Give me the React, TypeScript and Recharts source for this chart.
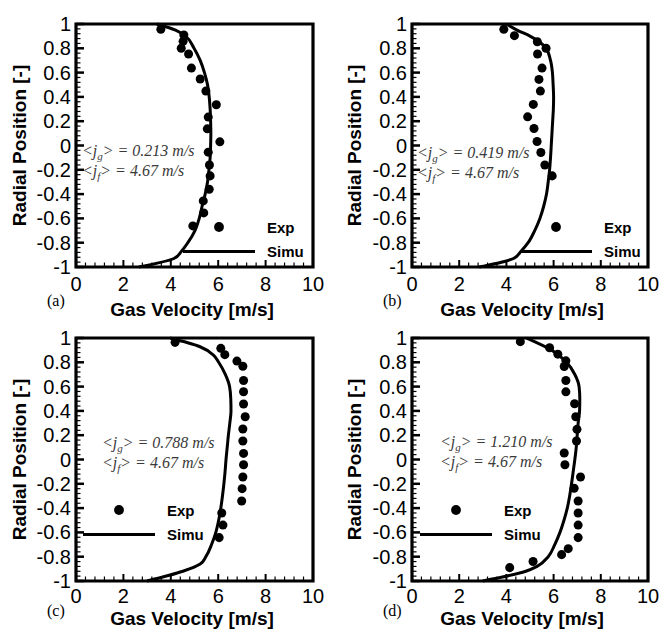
import { ScatterChart, Scatter, XAxis, YAxis, ZAxis, ReferenceArea, Legend } from 'recharts'

// axis ticks
const X_MAJOR = [0, 2, 4, 6, 8, 10]
const X_LABELS = ['0', '2', '4', '6', '8', '10']
const Y_MAJOR = [-1, -0.8, -0.6, -0.4, -0.2, 0, 0.2, 0.4, 0.6, 0.8, 1]
const Y_LABELS = ['-1', '-0.8', '-0.6', '-0.4', '-0.2', '0', '0.2', '0.4', '0.6', '0.8', '1']

// (a) jg = 0.213
const A_EXP_V = [3.58, 4.55, 4.52, 4.44, 4.75, 4.87, 5.24, 5.48, 5.92, 5.58, 5.54, 6.07, 5.58, 5.63, 5.66, 5.62, 5.37, 5.39, 4.93]
const A_EXP_R = [0.956, 0.91, 0.857, 0.8, 0.753, 0.637, 0.547, 0.448, 0.335, 0.234, 0.137, 0.03, -0.055, -0.16, -0.25, -0.36, -0.456, -0.555, -0.662]
const A_SIM_R = [-1, -0.93, -0.87, -0.8, -0.7, -0.6, -0.5, -0.4, -0.3, -0.2, -0.1, 0, 0.1, 0.2, 0.3, 0.4, 0.5, 0.6, 0.7, 0.8, 0.9, 0.95, 1]
const A_SIM_V = [2.65, 4.13, 4.45, 4.72, 5.02, 5.2, 5.32, 5.45, 5.55, 5.61, 5.66, 5.68, 5.69, 5.68, 5.66, 5.62, 5.55, 5.42, 5.24, 4.98, 4.62, 4.2, 3.4]

// (b) jg = 0.419
const B_EXP_V = [3.89, 4.34, 5.31, 5.68, 5.32, 5.51, 5.38, 5.44, 5.14, 4.9, 5.17, 5.3, 5.46, 5.63, 5.94]
const B_EXP_R = [0.956, 0.904, 0.854, 0.8, 0.753, 0.637, 0.544, 0.448, 0.338, 0.236, 0.14, 0.033, -0.058, -0.16, -0.25]
const B_SIM_R = [-1, -0.93, -0.87, -0.8, -0.7, -0.6, -0.5, -0.4, -0.3, -0.2, -0.1, 0, 0.1, 0.2, 0.3, 0.4, 0.5, 0.6, 0.7, 0.8, 0.85, 0.9, 0.95, 1]
const B_SIM_V = [2.85, 4.3, 4.62, 4.92, 5.2, 5.42, 5.58, 5.7, 5.77, 5.83, 5.87, 5.9, 5.93, 5.96, 5.99, 6.0, 5.98, 5.95, 5.87, 5.68, 5.42, 5.0, 4.45, 4.0]

// (c) jg = 0.788
const C_EXP_V = [4.18, 6.11, 6.28, 6.79, 7.04, 7.07, 7.07, 7.07, 7.14, 7.04, 7.04, 7.07, 7.07, 7.04, 7.01, 6.99, 6.15, 6.2, 6.04]
const C_EXP_R = [0.964, 0.915, 0.863, 0.81, 0.767, 0.65, 0.558, 0.457, 0.352, 0.251, 0.152, 0.05, -0.043, -0.144, -0.24, -0.342, -0.44, -0.54, -0.643]
const C_SIM_R = [-1, -0.92, -0.86, -0.8, -0.7, -0.6, -0.5, -0.4, -0.3, -0.2, -0.1, 0, 0.1, 0.2, 0.3, 0.4, 0.5, 0.6, 0.7, 0.8, 0.86, 0.93, 1]
const C_SIM_V = [3.0, 4.51, 5.24, 5.48, 5.72, 5.9, 6.02, 6.11, 6.18, 6.24, 6.29, 6.33, 6.38, 6.43, 6.49, 6.54, 6.53, 6.48, 6.3, 6.02, 5.8, 5.21, 3.97]

// (d) jg = 1.210
const D_EXP_V = [4.59, 5.83, 6.18, 6.52, 6.45, 6.52, 6.52, 6.89, 6.94, 6.99, 6.97, 6.45, 6.48, 7.14, 6.87, 7.04, 7.04, 7.04, 7.04, 6.62, 6.34, 5.13, 4.14]
const D_EXP_R = [0.97, 0.92, 0.867, 0.812, 0.765, 0.65, 0.557, 0.459, 0.352, 0.248, 0.152, 0.053, -0.043, -0.144, -0.237, -0.342, -0.44, -0.54, -0.643, -0.734, -0.783, -0.84, -0.89]
const D_SIM_R = [-1, -0.92, -0.88, -0.8, -0.7, -0.6, -0.5, -0.4, -0.3, -0.2, -0.1, 0, 0.1, 0.2, 0.3, 0.4, 0.5, 0.6, 0.7, 0.8, 0.9, 1]
const D_SIM_V = [3.0, 4.82, 5.3, 5.77, 6.05, 6.27, 6.44, 6.58, 6.68, 6.76, 6.83, 6.9, 6.96, 7.0, 7.04, 7.1, 7.11, 7.08, 6.9, 6.55, 5.92, 4.86]

const SANS = '"Liberation Sans", Arial, sans-serif'
const SERIF = '"Liberation Serif", "Times New Roman", serif'

const zip = (v: number[], r: number[]) => v.map((x, i) => ({ v: x, r: r[i] }))

// minor ticks: 5 steps between majors
const subdivide = (major: number[], n: number) =>
  major.flatMap((m, i) =>
    i === 0 ? [m] : Array.from({ length: n }, (_, k) => +(major[i - 1] + ((m - major[i - 1]) * (k + 1)) / n).toFixed(4))
  )

const X_TICKS = subdivide(X_MAJOR, 5)
const Y_TICKS = subdivide(Y_MAJOR, 5)

const majorIndex = (list: number[], v: number) => list.findIndex((m) => Math.abs(m - v) < 1e-6)

function YTick({ x, y, payload }: any) {
  const i = majorIndex(Y_MAJOR, payload.value)
  const major = i >= 0
  return (
    <g>
      <line x1={x} x2={x + (major ? 8 : 4.5)} y1={y} y2={y} stroke="#000" strokeWidth={major ? 2.5 : 1.2} />
      {major && (
        <text x={x - 5} y={y} dy={7} textAnchor="end" fontFamily={SANS} fontSize={20} fill="#000">
          {Y_LABELS[i]}
        </text>
      )}
    </g>
  )
}

function XTick({ x, y, payload, labelDy }: any) {
  const i = majorIndex(X_MAJOR, payload.value)
  const major = i >= 0
  return (
    <g>
      <line x1={x} x2={x} y1={y} y2={y - (major ? 7 : 4.5)} stroke="#000" strokeWidth={major ? 2 : 1.2} />
      {major && (
        <text x={x} y={y} dy={labelDy} textAnchor="middle" fontFamily={SANS} fontSize={20} fill="#000">
          {X_LABELS[i]}
        </text>
      )}
    </g>
  )
}

function LegendBox({ payload }: any) {
  return (
    <svg width={130} height={50} style={{ display: 'block', overflow: 'visible' }}>
      {(payload ?? []).map((p: any, i: number) => {
        const cy = 12 + i * 24.5
        return (
          <g key={p.value}>
            {p.type === 'line' ? (
              <line x1={0} x2={72} y1={cy} y2={cy} stroke="#000" strokeWidth={3} />
            ) : (
              <circle cx={36} cy={cy} r={4.9} fill="#000" />
            )}
            <text x={84} y={cy} dy={5.5} fontFamily={SANS} fontWeight="bold" fontSize={15} fill="#000">
              {p.value}
            </text>
          </g>
        )
      })}
    </svg>
  )
}

interface PanelProps {
  left: number
  top: number
  box: { l: number; r: number; t: number; b: number }
  exp: { v: number; r: number }[]
  sim: { v: number; r: number }[]
  letter: string
  jg: string
  note: { x: number; y: number }
  legend: { x: number; y: number }
  yTitleX: number
  xTitleY: number
  labelDy: number
  letterPos: { x: number; y: number }
}

function Panel(p: PanelProps) {
  const W = 330
  const H = 315
  const YW = 60
  const XH = 30
  const margin = { top: p.box.t, right: W - p.box.r, left: p.box.l - YW, bottom: H - p.box.b - XH }
  const cy = (p.box.t + p.box.b) / 2
  return (
    <div style={{ position: 'absolute', left: p.left, top: p.top, width: W, height: H }}>
      <ScatterChart width={W} height={H} margin={margin}>
        <XAxis
          type="number"
          dataKey="v"
          domain={[0, 10]}
          ticks={X_TICKS}
          interval={0}
          height={XH}
          axisLine={false}
          tickLine={false}
          tickSize={0}
          tickMargin={0}
          tick={<XTick labelDy={p.labelDy} />}
        />
        <YAxis
          type="number"
          dataKey="r"
          domain={[-1, 1]}
          ticks={Y_TICKS}
          interval={0}
          width={YW}
          axisLine={false}
          tickLine={false}
          tickSize={0}
          tickMargin={0}
          tick={<YTick />}
        />
        <ZAxis range={[75, 75]} />
        <ReferenceArea x1={0} x2={10} y1={-1} y2={1} fill="none" stroke="#000" strokeWidth={3.2} />
        <Scatter name="Exp" data={p.exp} fill="#000" shape="circle" isAnimationActive={false} />
        <Scatter
          name="Simu"
          data={p.sim}
          fill="#000"
          legendType="line"
          line={{ stroke: '#000', strokeWidth: 3 }}
          lineJointType="monotoneY"
          shape={() => <g />}
          isAnimationActive={false}
        />
        <Legend
          layout="vertical"
          align="center"
          verticalAlign="middle"
          content={<LegendBox />}
          wrapperStyle={{ left: p.legend.x, top: p.legend.y, width: 130, height: 50 }}
        />
      </ScatterChart>
      <svg
        width={W}
        height={H}
        style={{ position: 'absolute', left: 0, top: 0, overflow: 'visible', pointerEvents: 'none' }}
      >
        <text
          transform={`translate(${p.yTitleX},${cy}) rotate(-90)`}
          dy={6}
          textAnchor="middle"
          fontFamily={SANS}
          fontWeight="bold"
          fontSize={19}
          fill="#000"
        >
          Radial Position [-]
        </text>
        <text x={192} y={p.xTitleY} textAnchor="middle" fontFamily={SANS} fontWeight="bold" fontSize={19} fill="#000">
          Gas Velocity [m/s]
        </text>
        <text x={p.letterPos.x} y={p.letterPos.y} fontFamily={SERIF} fontSize={16} fill="#000">
          {p.letter}
        </text>
        <text x={p.note.x} y={p.note.y} fontFamily={SERIF} fontStyle="italic" fontSize={16} fill="#3a3a3a">
          {'<j'}
          <tspan fontSize={11} dy={4}>g</tspan>
          <tspan dy={-4}>{`> = ${p.jg} m/s`}</tspan>
        </text>
        <text x={p.note.x} y={p.note.y + 20} fontFamily={SERIF} fontStyle="italic" fontSize={16} fill="#3a3a3a">
          {'<j'}
          <tspan fontSize={11} dy={4}>f</tspan>
          <tspan dy={-4}>{'> = 4.67 m/s'}</tspan>
        </text>
      </svg>
    </div>
  )
}

export default function App() {
  return (
    <div style={{ position: 'absolute', left: 0, top: 0, width: 660, height: 630, background: '#fff', overflow: 'hidden' }}>
      <Panel
        left={0}
        top={0}
        box={{ l: 76, r: 313, t: 24, b: 267 }}
        exp={zip(A_EXP_V, A_EXP_R)}
        sim={zip(A_SIM_V, A_SIM_R)}
        letter="(a)"
        jg="0.213"
        note={{ x: 82, y: 156 }}
        legend={{ x: 183, y: 214.5 }}
        yTitleX={20}
        xTitleY={316}
        labelDy={24}
        letterPos={{ x: 47, y: 306 }}
      />
      <Panel
        left={330}
        top={0}
        box={{ l: 82, r: 318, t: 24, b: 267 }}
        exp={zip(B_EXP_V, B_EXP_R)}
        sim={zip(B_SIM_V, B_SIM_R)}
        letter="(b)"
        jg="0.419"
        note={{ x: 87, y: 158 }}
        legend={{ x: 190, y: 214.5 }}
        yTitleX={25}
        xTitleY={316}
        labelDy={24}
        letterPos={{ x: 53, y: 306 }}
      />
      <Panel
        left={0}
        top={315}
        box={{ l: 76, r: 313, t: 23, b: 266 }}
        exp={zip(C_EXP_V, C_EXP_R)}
        sim={zip(C_SIM_V, C_SIM_R)}
        letter="(c)"
        jg="0.788"
        note={{ x: 102, y: 133 }}
        legend={{ x: 83, y: 183 }}
        yTitleX={20}
        xTitleY={310}
        labelDy={22}
        letterPos={{ x: 47, y: 301 }}
      />
      <Panel
        left={330}
        top={315}
        box={{ l: 82, r: 318, t: 23, b: 266 }}
        exp={zip(D_EXP_V, D_EXP_R)}
        sim={zip(D_SIM_V, D_SIM_R)}
        letter="(d)"
        jg="1.210"
        note={{ x: 110, y: 132 }}
        legend={{ x: 90, y: 183 }}
        yTitleX={25}
        xTitleY={310}
        labelDy={22}
        letterPos={{ x: 53, y: 301 }}
      />
    </div>
  )
}
